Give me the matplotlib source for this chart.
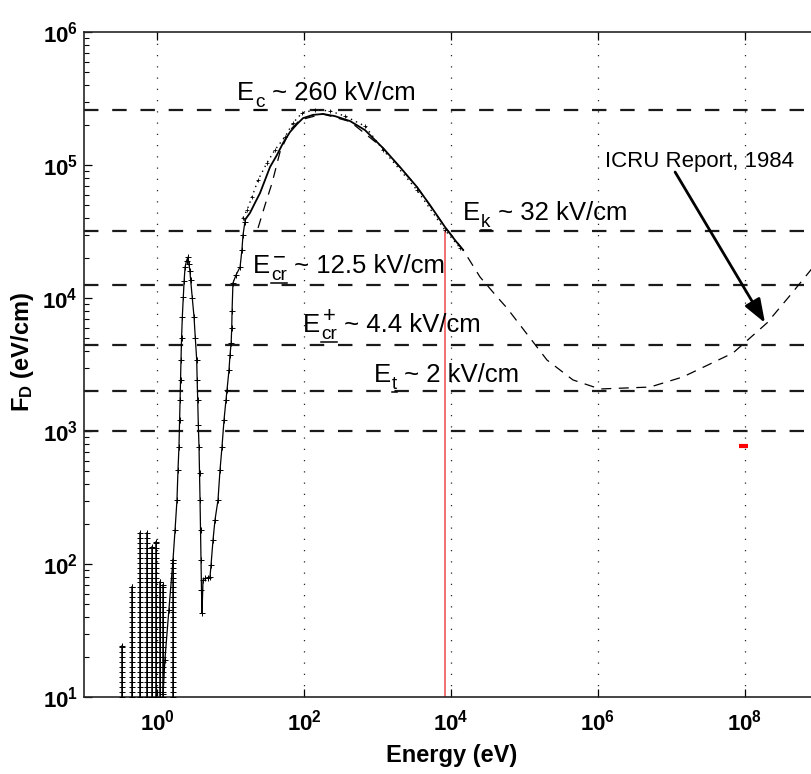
import matplotlib
matplotlib.use("Agg")
import matplotlib.pyplot as plt
from matplotlib.lines import Line2D
from matplotlib.transforms import offset_copy
from matplotlib.ticker import FixedLocator, LogLocator, NullFormatter, NullLocator

plt.rcParams['font.family'] = ['Liberation Sans', 'DejaVu Sans']
plt.rcParams['mathtext.fontset'] = 'custom'
plt.rcParams['mathtext.rm'] = 'Liberation Sans'
plt.rcParams['mathtext.it'] = 'Liberation Sans:italic'
plt.rcParams['mathtext.bf'] = 'Liberation Sans:bold'

# noisy low energy columns (energy eV, top of column eV/cm)
col_x = [0.334, 0.457, 0.587, 0.731, 0.855, 0.97, 1.10, 1.21, 1.65]
col_top = [24, 67, 171, 170, 135, 147, 73, 70, 107]
col_levels = [9.2, 10.0, 10.9, 11.9, 13.0, 14.1, 15.4, 16.8, 18.3, 19.9, 21.7, 23.7, 25.8, 28.1,
              30.7, 33.4, 36.4, 39.7, 43.3, 47.2, 51.4, 56.0, 61.1, 66.6, 72.6, 79.1,
              86.2, 94.0, 102.0, 111.0, 121.0, 132.0, 144.0, 157.0, 171.0]

# calculated F_D with '+' markers
calc_x = [1.21, 1.28, 1.45, 1.65, 1.76, 1.87, 1.93, 1.99, 2.03, 2.06, 2.09, 2.12, 2.16, 2.21,
          2.28, 2.34, 2.41, 2.52, 2.64, 2.72, 2.80, 2.87, 3.02, 3.19, 3.32, 3.47, 3.52, 3.58,
          3.65, 3.73, 3.79, 3.85, 3.91, 3.97, 4.03, 4.10, 4.23, 4.50, 4.90, 5.26, 5.43, 5.78,
          6.15, 6.76, 7.20, 7.66, 8.16, 8.68, 8.96, 9.54, 9.84, 10.2, 10.4, 10.5, 10.8, 11.9,
          13.5, 14.3, 14.8, 15.7]
calc_y = [10.5, 19, 45, 107, 180, 303, 509, 759, 1200, 1710, 2400, 3420, 5000, 7200,
          10200, 13500, 17100, 19000, 20300, 18000, 16000, 13650, 10000, 7200, 5000, 3420, 2400, 1710,
          1100, 759, 480, 303, 180, 107, 64, 43, 76, 78, 79, 80, 98, 151,
          214, 303, 509, 759, 1210, 1710, 2030, 2880, 3720, 4590, 6000, 8000, 12970, 14900,
          17100, 23000, 29800, 37300]

# solid curve
sol_x = [15.7, 18.4, 21.5, 25.2, 29.5, 34.5, 42.9, 51.8, 64.5, 80.3, 96.9, 132, 181, 264,
         423, 676, 1190, 2020, 3440, 5170, 8280, 1.13e4, 1.46e4]
sol_y = [3.86e4, 4.36e4, 5.18e4, 6.15e4, 7.71e4, 9.66e4, 1.19e5, 1.46e5, 1.77e5, 2.03e5,
         2.25e5, 2.38e5, 2.42e5, 2.33e5, 2.14e5, 1.83e5, 1.34e5, 9.66e4, 6.84e4, 5.0e4,
         3.42e4, 2.73e4, 2.30e4]

# dotted curve
dot_x = [14.8, 16.8, 19.6, 23.7, 31.4, 40.3, 55.1, 70.8, 93.9, 141, 226, 361, 676, 1190,
         3440, 8280, 1.33e4]
dot_y = [4.0e4, 4.59e4, 5.75e4, 7.71e4, 1.04e5, 1.30e5, 1.63e5, 2.07e5, 2.46e5, 2.6e5,
         2.55e5, 2.33e5, 1.96e5, 1.30e5, 6.49e4, 3.24e4, 2.38e4]

# ICRU Report 1984
icru_x = [23.7, 29.5, 36.7, 47.1, 64.5, 88, 180, 423, 1190, 3440, 8280, 1.46e4, 2.48e4,
          4.23e4, 5.78e4, 2.02e5, 4.57e5, 1.06e6, 5.1e6, 1.43e7, 6.87e7, 1.99e8, 4.07e8,
          7.9e8, 1e9]
icru_y = [3.36e4, 5.0e4, 7.3e4, 1.25e5, 1.83e5, 2.18e5, 2.42e5, 2.12e5, 1.34e5, 6.84e4,
          3.42e4, 2.3e4, 1.44e4, 1.02e4, 8.4e3, 3.42e3, 2.42e3, 2.07e3, 2.14e3, 2.55e3,
          3.86e3, 6.49e3, 1.04e4, 1.63e4, 1.93e4]

# field thresholds (eV/cm) and their labels
field_vals = [2.6e5, 3.2e4, 1.25e4, 4.4e3, 2.0e3, 1.0e3]
label_x = [12.3, 1.46e4, 20.2, 96.9, 896]
label_y = [3.08e5, 3.86e4, 1.54e4, 5.54e3, 2.33e3]
label_sub = ['c', 'k', 'cr', 'cr', 't']
label_sup = ['', '', '\u2212', '+', '']
label_rest = [' ~ 260 kV/cm', ' ~ 32 kV/cm', ' ~ 12.5 kV/cm', ' ~ 4.4 kV/cm', ' ~ 2 kV/cm']

ek_energy = 8280
red_mark_x = [8.3e7, 1.1e8]
red_mark_y = [771, 771]

x_major = [1e0, 1e2, 1e4, 1e6, 1e8]
y_major = [1e1, 1e2, 1e3, 1e4, 1e5, 1e6]

fig = plt.figure(figsize=(8.11, 7.74), dpi=100)
ax = fig.add_axes([83.5 / 811, 77 / 774, 735 / 811, 665 / 774])
ax.set_xscale('log')
ax.set_yscale('log')
ax.set_xlim(1e-1, 1e9)
ax.set_ylim(1e1, 1e6)

for x in x_major:
    ax.axvline(x, color='0.15', lw=0.9, ls=(0, (1, 8)), zorder=1)

for v in field_vals:
    ax.axhline(v, color='0.1', lw=1.6, ls=(0, (6.5, 6.2)), zorder=2)

for cx, top in zip(col_x, col_top):
    ys = [lv for lv in col_levels if lv < top] + [top]
    ax.plot([cx] * len(ys), ys, color='k', lw=1.1, marker='+', ms=5, mew=0.7, zorder=3)

ax.plot(calc_x, calc_y, color='k', lw=0.9, marker='+', ms=5, mew=0.7, zorder=3)
ax.plot(dot_x, dot_y, color='k', lw=1.0, ls=(0, (1, 3)), marker='+', ms=3.5, mew=0.6, zorder=3)
ax.plot(sol_x, sol_y, color='k', lw=1.3, zorder=4)
ax.plot(icru_x, icru_y, color='k', lw=0.9, ls=(0, (8, 6)), zorder=3)

ax.plot([ek_energy, ek_energy], [10, field_vals[1]], color='#f06464', lw=1.3, zorder=2)
ax.plot(red_mark_x, red_mark_y, color='red', lw=3, solid_capstyle='butt', zorder=2)

# E labels: subscript underlined like the original, pieces placed one after another
fs = 18.5
renderer = fig.canvas.get_renderer()


def shifted(dx, dy):
    return offset_copy(ax.transData, fig=fig, x=dx, y=dy, units='dots')


for x, y, sb, sp, rest in zip(label_x, label_y, label_sub, label_sup, label_rest):
    t = ax.text(x, y, 'E', fontsize=fs, va='baseline')
    w1 = t.get_window_extent(renderer).width + 1
    ts = ax.text(x, y, sb, fontsize=fs * 0.74, va='baseline', transform=shifted(w1, -7))
    w2 = ts.get_window_extent(renderer).width
    if sp:
        tp = ax.text(x, y, sp, fontsize=fs * 0.85, va='baseline', transform=shifted(w1, 0))
        w3 = tp.get_window_extent(renderer).width
        tp.set_transform(shifted(w1 + (w2 - w3) / 2, 10))
    bx, by = ax.transData.transform((x, y))
    fig.add_artist(Line2D([bx + w1, bx + w1 + w2], [by - 10, by - 10], color='k', lw=1.1,
                          transform=None))
    ax.text(x, y, rest, fontsize=fs, va='baseline', transform=shifted(w1 + w2, 0))

ax.text(1.245e6, 9.66e4, 'ICRU Report, 1984', fontsize=16, va='baseline')
ax.annotate('', xy=(1.87e8, 6.5e3), xytext=(1.12e7, 8.85e4),
            arrowprops=dict(arrowstyle='-|>,head_length=0.6,head_width=0.22', lw=2,
                            color='k', mutation_scale=24, shrinkA=0, shrinkB=0))

ax.xaxis.set_major_locator(FixedLocator(x_major))
ax.xaxis.set_minor_locator(NullLocator())
ax.set_xticklabels([r'$\mathbf{10^{%d}}$' % e for e in [0, 2, 4, 6, 8]])
ax.yaxis.set_major_locator(FixedLocator(y_major))
ax.yaxis.set_minor_locator(LogLocator(base=10, subs=range(2, 10)))
ax.yaxis.set_minor_formatter(NullFormatter())
ax.set_yticklabels([r'$\mathbf{10^{%d}}$' % e for e in [1, 2, 3, 4, 5, 6]])
ax.tick_params(which='both', direction='in', top=True, right=True, labelsize=16)
ax.tick_params(which='major', length=6, width=0.9)
ax.tick_params(which='minor', length=3.5, width=0.8)
ax.tick_params(axis='x', pad=9)
ax.tick_params(axis='y', pad=4)
for s in ax.spines.values():
    s.set_linewidth(1.2)
    s.set_color('0.15')

fig.text(23 / 811, 1 - 352 / 774, r'$\mathbf{F_D}$ (eV/cm)', rotation=90, fontsize=17,
         fontweight='bold', ha='center', va='center')
fig.text(452 / 811, 1 - 762 / 774, 'Energy (eV)', fontsize=17, fontweight='bold',
         ha='center', va='baseline')

fig.savefig('out.png', dpi=100)
